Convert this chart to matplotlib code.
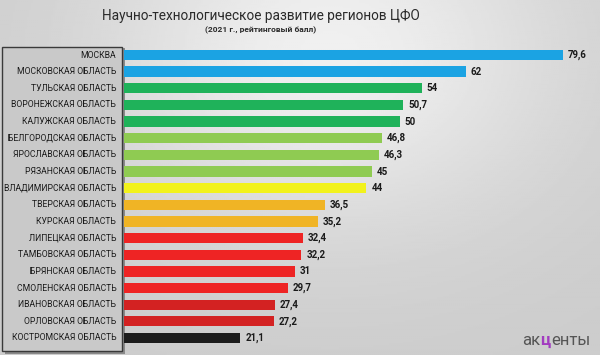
import numpy as np
import matplotlib.pyplot as plt
from matplotlib.patches import Rectangle

plt.rcParams['font.family'] = ['Roboto', 'DejaVu Sans']

regions = ['МОСКВА', 'МОСКОВСКАЯ ОБЛАСТЬ', 'ТУЛЬСКАЯ ОБЛАСТЬ', 'ВОРОНЕЖСКАЯ ОБЛАСТЬ',
           'КАЛУЖСКАЯ ОБЛАСТЬ', 'БЕЛГОРОДСКАЯ ОБЛАСТЬ', 'ЯРОСЛАВСКАЯ ОБЛАСТЬ',
           'РЯЗАНСКАЯ ОБЛАСТЬ', 'ВЛАДИМИРСКАЯ ОБЛАСТЬ', 'ТВЕРСКАЯ ОБЛАСТЬ',
           'КУРСКАЯ ОБЛАСТЬ', 'ЛИПЕЦКАЯ ОБЛАСТЬ', 'ТАМБОВСКАЯ ОБЛАСТЬ',
           'БРЯНСКАЯ ОБЛАСТЬ', 'СМОЛЕНСКАЯ ОБЛАСТЬ', 'ИВАНОВСКАЯ ОБЛАСТЬ',
           'ОРЛОВСКАЯ ОБЛАСТЬ', 'КОСТРОМСКАЯ ОБЛАСТЬ']
scores = [79.6, 62, 54, 50.7, 50, 46.8, 46.3, 45, 44, 36.5, 35.2,
          32.4, 32.2, 31, 29.7, 27.4, 27.2, 21.1]
colors = ['#1ba3e3', '#1ba3e3', '#1fb25a', '#1fb25a', '#1fb25a',
          '#8fcb52', '#8fcb52', '#8fcb52', '#f2f21c', '#f0b425', '#f0b425',
          '#ee2424', '#ee2424', '#ee2424', '#ee2424', '#d32222', '#d32222',
          '#1c1c1c']

fig = plt.figure(figsize=(6, 3.55), dpi=100)

# background gradient
bg = fig.add_axes([0, 0, 1, 1], zorder=0)
yy, xx = np.mgrid[0:1:200j, 0:1:300j]
grad = 0.80 + 0.14 * np.exp(-((xx - 0.55) ** 2 / 0.15 + (yy - 0.15) ** 2 / 0.25))
bg.imshow(grad, cmap='gray', vmin=0, vmax=1, aspect='auto', extent=[0, 1, 0, 1])
bg.set_xlim(0, 1)
bg.set_ylim(0, 1)
bg.axis('off')

# label box with shadow
fig.patches.append(Rectangle((0.009, 0.003), 0.2, 0.862, transform=fig.transFigure,
                             facecolor='#8a8a8a', edgecolor='none', zorder=1))
fig.patches.append(Rectangle((0.004, 0.010), 0.2, 0.858, transform=fig.transFigure,
                             facecolor='#c9c9c9', edgecolor='#3a3a3a', lw=1.0, zorder=1))

ax = fig.add_axes([0.2067, 0.0245, 0.776, 0.844], zorder=2)
ax.patch.set_alpha(0)
y = np.arange(len(regions))
ax.barh(y, scores, height=0.62, color=colors)
for yi, v in zip(y, scores):
    ax.text(v + 0.9, yi, f'{v:g}'.replace('.', ','), va='center', ha='left',
            fontsize=7.0, fontweight='bold', color='#1a1a1a')
for yi, name in zip(y, regions):
    ax.text(-1.4, yi, name, va='center', ha='right', fontsize=6.2, color='#1a1a1a')
ax.set_xlim(0, 84.5)
ax.set_ylim(len(regions) - 0.5, -0.5)
ax.axis('off')

fig.text(0.435, 0.955, 'Научно-технологическое развитие регионов ЦФО', ha='center',
         va='center', fontsize=9.8, color='#2a2a2a')
fig.text(0.435, 0.915, '(2021 г., рейтинговый балл)', ha='center', va='center',
         fontsize=6.0, fontweight='bold', color='#2a2a2a')

fig.text(0.900, 0.040, 'ак', ha='right', va='center', fontsize=12, color='#555555')
fig.text(0.909, 0.040, 'ц', ha='center', va='center', fontsize=12, color='#a23cc0',
         fontweight='bold')
fig.text(0.918, 0.040, 'енты', ha='left', va='center', fontsize=12, color='#555555')

fig.savefig('out.png', dpi=100)
